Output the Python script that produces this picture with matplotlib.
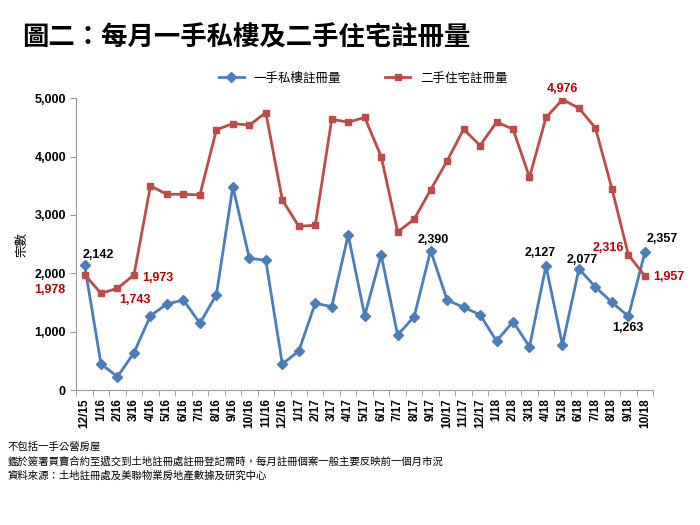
import numpy as np
import matplotlib
matplotlib.use("Agg")
import matplotlib.pyplot as plt

plt.rcParams['font.family'] = ['Liberation Sans', 'Noto Sans CJK TC', 'DejaVu Sans']

# --- DATA ---
months = ["12/15", "1/16", "2/16", "3/16", "4/16", "5/16", "6/16", "7/16", "8/16", "9/16",
          "10/16", "11/16", "12/16", "1/17", "2/17", "3/17", "4/17", "5/17", "6/17", "7/17",
          "8/17", "9/17", "10/17", "11/17", "12/17", "1/18", "2/18", "3/18", "4/18", "5/18",
          "6/18", "7/18", "8/18", "9/18", "10/18"]
primary = [2142, 446, 229, 640, 1274, 1474, 1543, 1143, 1634, 3486,
           2257, 2223, 446, 669, 1486, 1429, 2657, 1274, 2314, 943,
           1257, 2390, 1543, 1417, 1291, 840, 1171, 743, 2127, 771,
           2077, 1766, 1503, 1263, 2357]
secondary = [1978, 1657, 1743, 1973, 3497, 3354, 3354, 3343, 4457, 4566,
             4537, 4754, 3257, 2806, 2823, 4640, 4589, 4669, 4000, 2709,
             2926, 3429, 3926, 4469, 4189, 4589, 4469, 3646, 4669, 4976,
             4829, 4491, 3451, 2316, 1957]

# labelled points: (index, x offset px, y offset px)
primary_labels = [(0, 14, 10), (21, 3, 11), (28, -6, 13), (30, 3, 9), (33, 0, -12), (34, 17, 13)]
secondary_labels = [(0, -35, -15), (2, 17, -12), (3, 24, -3), (29, 0, 11), (33, -20, 7), (34, 24, -1)]

blue = "#4A7EBB"
red = "#BE4B48"
label_red = "#C00000"
cjk = ['Noto Sans CJK TC', 'DejaVu Sans']

fig = plt.figure(figsize=(7, 5.25), dpi=100)
ax = fig.add_axes([0.109, 0.257, 0.824, 0.556])

x = np.arange(len(months))
ax.plot(x, primary, color=blue, lw=2, marker="D", ms=5.5, label="一手私樓註冊量")
ax.plot(x, secondary, color=red, lw=2, marker="s", ms=4.5, label="二手住宅註冊量")

for i, dx, dy in primary_labels:
    ax.annotate(f"{primary[i]:,}", (x[i], primary[i]), xytext=(dx, dy), textcoords="offset pixels",
                ha="center", va="center", fontsize=9, fontweight="bold", color="black")
for i, dx, dy in secondary_labels:
    ax.annotate(f"{secondary[i]:,}", (x[i], secondary[i]), xytext=(dx, dy), textcoords="offset pixels",
                ha="center", va="center", fontsize=9, fontweight="bold", color=label_red)

ax.set_xlim(-0.5, len(months) - 0.5)
ax.set_ylim(0, 5000)
ax.set_yticks(np.arange(0, 5001, 1000))
ax.set_yticklabels([f"{v:,}" for v in range(0, 5001, 1000)], fontsize=9, fontweight="bold")
ax.set_xticks(x)
ax.set_xticklabels(months, rotation=90, fontsize=8.5, fontweight="bold")
ax.set_xticks(np.arange(-0.5, len(months), 1), minor=True)
ax.tick_params(axis="x", which="major", length=0, pad=6)
ax.tick_params(axis="x", which="minor", length=4, color="#999999")
ax.tick_params(axis="y", length=4, color="#999999")

for s in ["top", "right"]:
    ax.spines[s].set_visible(False)
for s in ["left", "bottom"]:
    ax.spines[s].set_color("#999999")

ax.set_ylabel("宗數", family=cjk, fontsize=9, labelpad=4)

fig.legend(loc="center", bbox_to_anchor=(0.519, 0.851), ncol=2, frameon=False,
           prop={'family': cjk, 'size': 9}, handlelength=2, columnspacing=3.5)

fig.text(0.031, 0.927, "圖二：每月一手私樓及二手住宅註冊量", family=cjk, fontsize=19,
         fontweight="bold", va="center", ha="left")

notes = ["不包括一手公營房屋",
         "鑑於簽署買賣合約至遞交到土地註冊處註冊登記需時，每月註冊個案一般主要反映前一個月市況",
         "資料來源：土地註冊處及美聯物業房地產數據及研究中心"]
for k, line in enumerate(notes):
    fig.text(0.011, 1 - (447 + 14.5 * k) / 525, line, family=cjk, fontsize=7.5, va="center", ha="left")

fig.savefig("out.png", dpi=100)
